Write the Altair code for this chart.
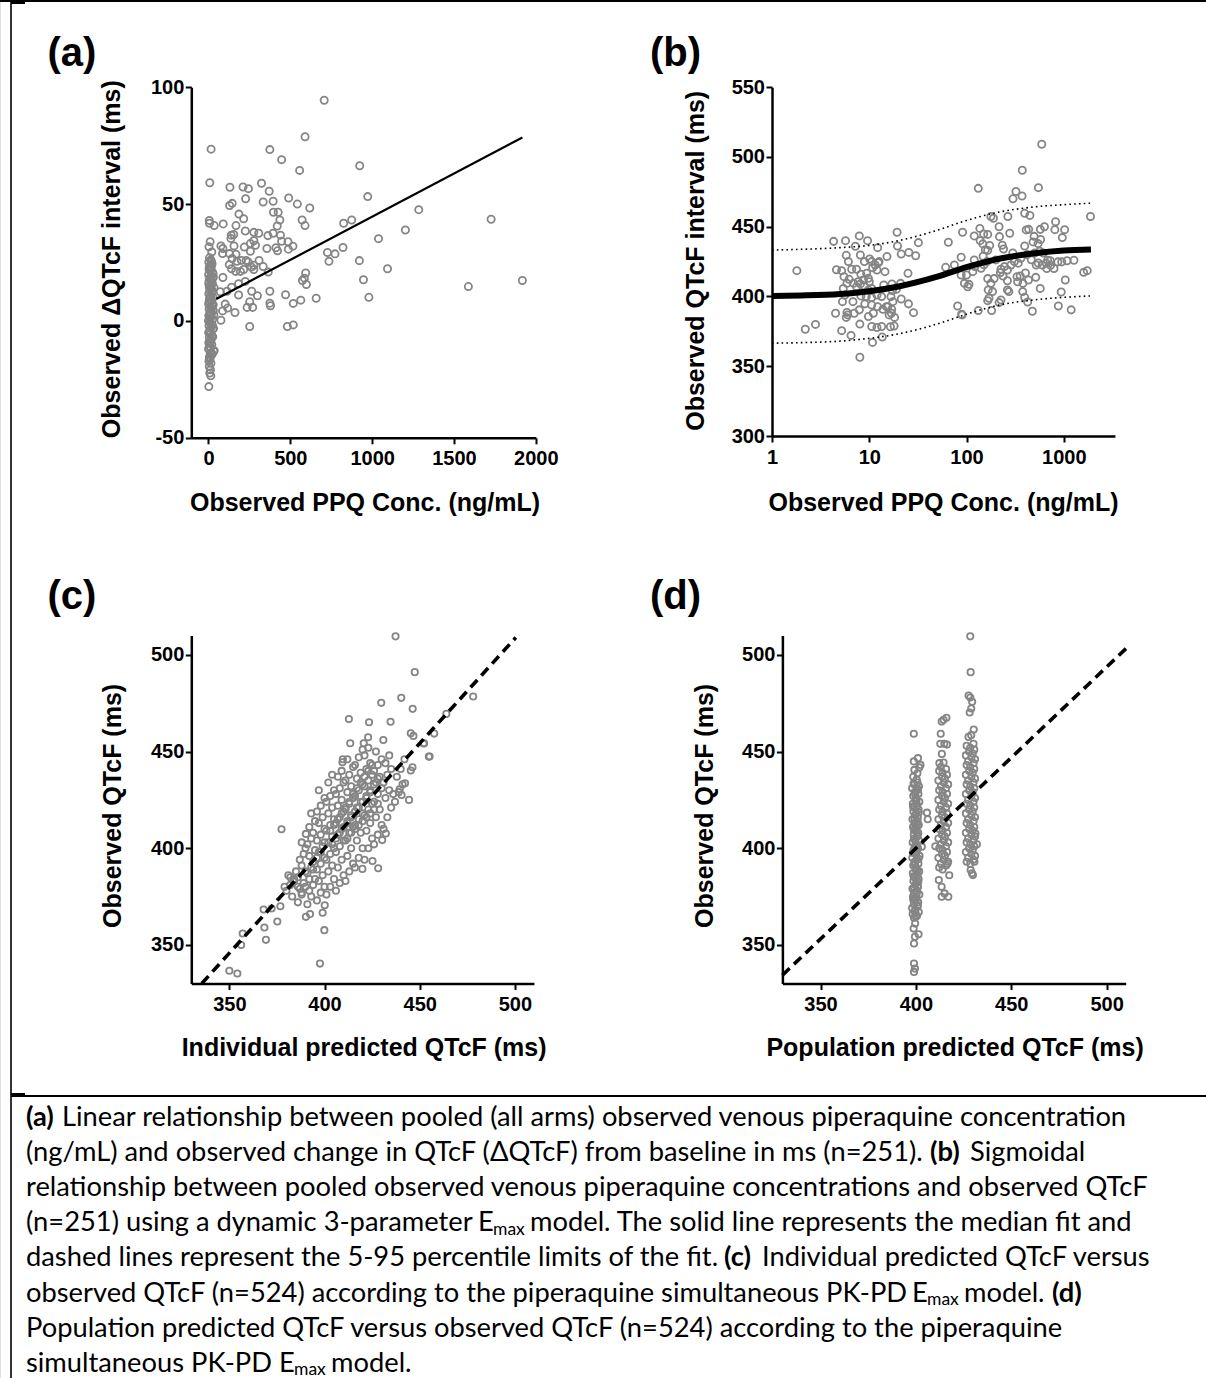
import altair as alt
import pandas as pd

W, H = 1206, 1378
AX_FONT = "Liberation Sans"
CAP_FONT = "Lato, 'Open Sans', sans-serif"
GRAY = "#858585"

# ---------------- Panel (a): conc vs delta QTcF ----------------
a_points = [
    (10, 33.9), (3, 31.7), (20, 29.5), (6, 27.0), (14, 26.1), (2, 25.2), (22, 24.4), (9, 23.6), (17, 22.9),
    (4, 22.0), (12, 21.3), (26, 20.6), (1, 19.8), (15, 19.0), (7, 18.2), (19, 17.5), (3, 16.8), (24, 16.0),
    (11, 15.2), (5, 14.5), (16, 13.9), (8, 13.1), (21, 12.4), (2, 11.6), (13, 10.9), (28, 10.1), (6, 9.4),
    (18, 8.7), (10, 8.0), (1, 7.2), (23, 6.5), (14, 5.8), (4, 5.1), (30, 4.4), (9, 3.6), (17, 2.9), (2, 2.2),
    (12, 1.4), (25, 0.7), (0, 0.0), (7, -0.6), (19, -1.3), (3, -2.1), (15, -2.8), (27, -3.5), (8, -4.2),
    (1, -5.0), (13, -5.7), (22, -6.4), (5, -7.1), (16, -7.9), (10, -8.6), (2, -9.3), (20, -10.1), (7, -10.8),
    (14, -11.5), (4, -12.3), (32, -13.0), (11, -13.8), (18, -14.6), (6, -15.4), (9, -16.3), (3, -17.2),
    (15, -18.1), (5, -19.5), (12, -20.9), (8, -22.3), (14, -23.5), (2, -28.1),
    (18, 25.5), (5, 23.0), (28, 20.1), (11, 17.9), (2, 15.8), (25, 12.8), (16, 10.5), (4, 8.3), (20, 5.5),
    (11, 3.0), (5, 1.0), (24, -1.8), (9, -4.5), (26, -6.8), (12, -9.0), (1, -11.9), (23, -14.1), (8, -16.0),
    (35, -12.7), (30, 18.7), (34, 14.2), (29, 6.9), (33, 2.5), (31, -3.2),
    (707, 94.4), (590, 78.8), (16, 73.5), (375, 73.3), (447, 69), (557, 64.4), (924, 66.4), (8, 59.1),
    (131, 57.2), (211, 57.3), (244, 56.6), (324, 58.9), (371, 55.5), (227, 52.3), (334, 50.9), (395, 51.2),
    (129, 49.4), (145, 50.3), (490, 52.6), (543, 50), (619, 48.3), (973, 53.2), (186, 45.7), (215, 43.7),
    (397, 46.5), (426, 46.5), (436, 43.2), (572, 43.2), (590, 40.8), (420, 40.6), (1285, 47.6), (1727, 43.5),
    (826, 41.8), (875, 43.2), (1203, 38.9), (1039, 35.2), (5, 43), (6, 41.8), (35, 40.8), (90, 41.5),
    (168, 40.8), (225, 38.5), (277, 37.9), (307, 37.5), (363, 36.5), (395, 37.5), (440, 36.7), (139, 36.7),
    (154, 37), (137, 35.3), (277, 34.3), (256, 33.1), (287, 32.4), (447, 34.1), (486, 33.9), (516, 32),
    (488, 30.7), (357, 31), (412, 31.3), (422, 30), (219, 31.6), (156, 32.1), (76, 32.1), (88, 31),
    (86, 28.8), (129, 28.8), (168, 28.5), (256, 29.8), (727, 29.3), (773, 28.7), (822, 31.4), (736, 25.5),
    (922, 25.8), (145, 26.7), (174, 25.5), (201, 25.9), (230, 25.9), (242, 25.2), (277, 23.8), (127, 24.1),
    (141, 22.3), (166, 21.2), (195, 21.2), (215, 22), (262, 23.1), (277, 22), (309, 25.9), (334, 23.3),
    (365, 20.9), (1094, 22.3), (594, 20.5), (574, 17.3), (586, 18.3), (598, 15.6), (947, 17.6), (1588, 14.7),
    (1918, 17.3), (88, 18.6), (225, 16.9), (184, 15.9), (141, 14.4), (72, 12.5), (113, 12.7), (264, 12.7),
    (375, 12.7), (184, 11.1), (299, 10.8), (471, 11.2), (980, 10.1), (658, 9.7), (564, 8.9), (518, 7.5),
    (375, 7.6), (379, 6.5), (252, 8.2), (236, 5.8), (270, 5.8), (102, 7.2), (117, 5.5), (86, 4.3),
    (162, 3.6), (76, 0.3), (252, -2.4), (482, -2.4), (518, -1.7),
]
a_fit_conc = [47, 1918]
a_fit_dqtc = [9.4, 78.5]

# ---------------- Panel (b): conc (log) vs QTcF ----------------
b_points = [
    (1.8, 418.5), (2.2, 376.5), (2.8, 380), (4.3, 439.5), (5.7, 440), (7.9, 443.4), (9.6, 440), (5.8, 429.5),
    (6.1, 425), (8.1, 429.7), (7.2, 436), (10.1, 426.9), (4.6, 419.2), (5.2, 418.5), (6.6, 419.5), (7.4, 419.5),
    (5.5, 414.2), (6.2, 412.3), (5.9, 409.4), (5.4, 405.8), (5.6, 401.1), (6.9, 409.4), (7.7, 410.6), (8.7, 411.8),
    (9.8, 413), (10.6, 425), (11.5, 422.6), (12, 419), (12.6, 425), (15.2, 428.6), (14.5, 417.8), (12.2, 435),
    (19.3, 446), (19.5, 436.2), (21.3, 430.4), (25.5, 431.6), (30, 429.2), (32, 438.6), (25, 416.6), (17.1, 409),
    (21, 409.4), (21.3, 398.2), (28.5, 388.4), (17, 390.8), (15, 392.7), (18.2, 385), (18, 378.8), (16.5, 378.3),
    (13.6, 370.9), (10.8, 367.1), (12, 377.8), (8, 380.2), (6.5, 372.1), (8, 356.4), (5.2, 375.5), (4.5, 388),
    (5.8, 385), (5.9, 388.6), (7, 388), (7.9, 390.4), (9, 394.7), (6.8, 396.3), (8.2, 400.4), (9.3, 399.9),
    (10.6, 399.2), (12, 401.1), (13.4, 399.9), (10.6, 393.9), (12.2, 392.7), (13.8, 390.8), (15.5, 392.7),
    (16.9, 388), (9.8, 385.6), (11, 388), (9.8, 404.7), (8.9, 407.5), (8.1, 409), (10, 410.6), (10.6, 405.8),
    (9.4, 416.6), (10.8, 420.6), (12.4, 424.2), (5.3, 396.3), (6, 386.8), (10.6, 378.5), (13.4, 378.5),
    (16, 386.8), (17.5, 396.3), (25.3, 394.7), (16.7, 399.9), (17.3, 404.2), (19, 405.1), (8.9, 425), (8.2, 416),
    (7.4, 407), (14.1, 408.3),
    (61, 420.9), (75, 422.6), (65, 438.9), (91, 446), (88, 428.1), (81, 393.2), (88, 415.4), (95, 409.4),
    (106, 408.7), (90, 386.8), (116, 417.8), (120, 443.4), (132, 477.5), (137, 448.8), (150, 444.8), (165, 444.5),
    (148, 428.8), (156, 433.5), (165, 433), (173, 436.6), (147, 437.7), (138, 440), (178, 457.3), (189, 456.1),
    (216, 450), (218, 442.9), (233, 436.8), (240, 434), (278, 445.3), (266, 457.3), (322, 475.2), (300, 470),
    (372, 472), (374, 490.5), (593, 509.1), (548, 478), (396, 459.6), (448, 458.1), (632, 450), (573, 448.1),
    (410, 447.7), (435, 448.1), (396, 436.2), (495, 443.1), (577, 440.8), (823, 453.6), (809, 447.9),
    (1020, 447.9), (965, 442.2), (544, 437.9), (483, 439.1), (503, 431.2), (566, 432.4), (615, 431.2),
    (682, 426), (730, 422.4), (668, 420), (792, 420), (868, 424.8), (952, 424.8), (1080, 425.6), (1270, 426),
    (1035, 411.8), (940, 403.2), (878, 393.2), (1190, 390.4), (1880, 457.3), (1600, 417.3), (1740, 418.5),
    (572, 405.8), (475, 389.4), (425, 396), (396, 399.4), (378, 403.5), (330, 414.2), (356, 414.7), (380, 409.4),
    (433, 411.8), (515, 413.7), (263, 411.3), (237, 414.7), (272, 403.5), (263, 404.7), (226, 397.5),
    (216, 395.6), (185, 403.5), (167, 404.7), (170, 398.7), (165, 397), (181, 389.9), (132, 389.9), (89, 387.3),
    (165, 412.8), (178, 409.4), (192, 412.8), (226, 419.5), (245, 421.4), (223, 417.1), (200, 426.2), (310, 425),
    (340, 423.9), (362, 427.4), (286, 422.6), (263, 419), (299, 431.2), (420, 430), (462, 426.3), (520, 422.6),
    (600, 422.6), (660, 423.9), (725, 425.6), (545, 424), (403, 416.8), (335, 410.5), (162, 425), (151, 422.7),
    (120, 426.2), (122, 421.4), (141, 420.2), (100, 415.4), (103, 407),
]
b_curve_conc = [1, 2, 5, 10, 20, 50, 100, 200, 500, 1000, 1900]
b_median = [400.3, 400.7, 401.8, 403.8, 407.2, 414.2, 421.0, 426.6, 431.0, 432.9, 433.6]
b_upper = [433.3, 433.8, 435.0, 436.6, 440.0, 447.5, 454.5, 460.0, 464.2, 465.8, 466.9]
b_lower = [366.5, 366.9, 368.0, 370.0, 373.2, 380.3, 387.3, 393.3, 397.6, 399.4, 400.4]

# ---------------- Panel (c): individual predicted vs observed ----------------
c_points = [
    (437.3, 509.6), (447.4, 491.1), (440.3, 477.8), (429.8, 475.2), (446.3, 472.1), (412.8, 466.8),
    (423.4, 465.2), (434.7, 465.4), (478.1, 478.5), (464, 469.5), (457.6, 459.3), (452.3, 454.3),
    (454.8, 447.4), (445.3, 459.5), (446.7, 458.1), (413.5, 454.3), (420.6, 454.3), (422.9, 457.4),
    (430.9, 456), (409.6, 446), (409.4, 444.5), (377.4, 409.8), (390.2, 407.4), (357, 355.9), (356.2, 349.9),
    (350, 336.6), (354.2, 335.2), (368, 368.3), (372.2, 368.8), (368.4, 359), (369.2, 352.6), (375.2, 362.1),
    (376.8, 370), (397.6, 340.3), (399.9, 357.6), (399, 366.6), (400.1, 370.5), (390.2, 364.5), (392.4, 365.9),
    (425.2, 393.4), (428.2, 389.6), (419.9, 389.3), (430.3, 404.2), (432.2, 407.6), (439.5, 430.5),
    (436.1, 428), (440.5, 427.5), (442.3, 433.6), (444.4, 425), (445.3, 440.2), (446.2, 441.9), (455.2, 447.4),
    (452, 454.2),
    (380, 378), (382, 381), (384, 384), (381, 386), (383, 375), (385, 388), (379, 380), (384, 383), (382, 385),
    (386, 372), (388, 376), (387, 379), (389, 382), (386, 385), (390, 388), (388, 391), (387, 394), (389, 397),
    (390, 400), (388, 403), (386, 380),
    (391, 371), (393, 375), (392, 378), (394, 381), (395, 384), (391, 387), (393, 390), (394, 393), (392, 396),
    (395, 399), (391, 402), (393, 405), (394, 408), (392, 411), (395, 414), (393, 418),
    (396, 373), (398, 377), (400, 380), (397, 383), (399, 386), (396, 389), (398, 392), (400, 395), (397, 398),
    (399, 401), (396, 404), (398, 407), (400, 410), (397, 413), (399, 416), (396, 419), (398, 422), (400, 426),
    (397, 430),
    (401, 376), (403, 380), (405, 384), (402, 388), (404, 391), (401, 394), (403, 397), (405, 400), (402, 403),
    (404, 406), (401, 409), (403, 412), (405, 415), (402, 418), (404, 421), (401, 424), (403, 427), (405, 430),
    (402, 434), (404, 438),
    (406, 378), (408, 382), (410, 386), (407, 390), (409, 394), (406, 398), (408, 401), (410, 404), (407, 407),
    (409, 410), (406, 413), (408, 416), (410, 419), (407, 422), (409, 425), (406, 428), (408, 431), (410, 434),
    (407, 437), (409, 440),
    (411, 383), (413, 388), (415, 392), (412, 396), (414, 400), (411, 404), (413, 408), (415, 411), (412, 414),
    (414, 417), (411, 420), (413, 423), (415, 426), (412, 429), (414, 432), (411, 435), (413, 438), (415, 442),
    (412, 446),
    (416, 390), (418, 395), (420, 400), (417, 404), (419, 408), (416, 412), (418, 415), (420, 418), (417, 421),
    (419, 424), (416, 427), (418, 430), (420, 433), (417, 436), (419, 439), (416, 443), (418, 447), (420, 451),
    (421, 394), (423, 400), (425, 405), (422, 409), (424, 413), (421, 417), (423, 420), (425, 423), (422, 426),
    (424, 429), (421, 432), (423, 435), (425, 438), (422, 441), (424, 444), (421, 448), (423, 452),
    (426, 402), (428, 407), (430, 412), (427, 416), (429, 420), (426, 424), (428, 428), (430, 431), (427, 434),
    (429, 437), (426, 440), (428, 443), (430, 446), (427, 450),
    (431, 410), (433, 416), (435, 421), (432, 426), (434, 430), (431, 434), (433, 438), (435, 441), (432, 444),
    (434, 448),
    (437, 424), (439, 429), (441, 433), (438, 437), (440, 441), (442, 446),
    (404, 402), (406, 405), (408, 408), (410, 411), (412, 413), (414, 416), (416, 419), (418, 421), (420, 424),
    (422, 427), (424, 430), (426, 433), (428, 436), (403, 409), (405, 412), (407, 415), (409, 418), (411, 421),
    (413, 424), (415, 428), (417, 431), (419, 434), (421, 437), (423, 440), (425, 443), (412, 405), (414, 408),
    (416, 410), (418, 412), (420, 414), (422, 416), (424, 418), (426, 420), (428, 423), (398, 398), (400, 403),
    (396, 395), (394, 389), (392, 384), (390, 380), (388, 377),
]
c_line_pred = [335.5, 500.5]
c_line_obs = [330, 509]

# ---------------- Panel (d): population predicted vs observed ----------------
d_points = [
    (399.0, 364), (400.6, 365), (398.3, 366), (401.5, 367), (399.8, 368), (398.0, 369), (400.9, 370), (398.9, 371),
    (401.2, 372), (399.4, 373), (400.2, 374), (398.5, 375), (401.8, 376), (399.1, 377), (400.7, 378), (398.2, 379),
    (401.0, 380), (399.6, 381), (400.3, 382), (398.7, 383), (401.4, 384), (399.2, 385), (400.8, 386), (398.4, 387),
    (401.7, 388), (399.9, 389), (400.1, 390), (398.6, 391), (401.3, 392), (399.3, 393), (400.5, 394), (398.1, 395),
    (401.9, 396), (399.7, 397), (400.4, 398), (398.8, 399), (401.1, 400), (399.5, 401), (400.0, 402), (398.3, 403),
    (401.6, 404), (399.0, 405), (400.6, 406), (398.9, 407), (401.2, 408), (399.8, 409), (400.3, 410), (398.5, 411),
    (401.5, 412), (399.3, 413), (400.9, 414), (398.2, 415), (401.0, 416), (399.6, 417), (400.2, 418), (398.7, 419),
    (401.4, 420), (399.1, 421), (400.7, 422), (398.4, 423), (401.8, 424), (399.9, 425), (400.1, 426), (398.6, 427),
    (401.3, 428), (399.4, 429), (400.5, 430), (398.0, 431), (401.6, 432), (399.2, 433), (400.8, 434),
    (400.0, 364.5), (399.3, 367.5), (401.0, 370.5), (398.6, 373.5), (400.4, 376.5), (399.0, 379.5), (401.2, 382.5),
    (398.8, 385.5), (400.6, 388.5), (399.5, 391.5), (401.4, 394.5), (398.4, 397.5), (400.2, 400.5), (399.8, 403.5),
    (401.0, 406.5), (398.9, 409.5), (400.7, 412.5), (399.2, 415.5), (401.5, 418.5), (398.5, 421.5), (400.3, 424.5),
    (399.7, 427.5), (401.1, 430.5), (398.8, 433.5),
    (399, 336.0), (399.5, 337.7), (399, 340.3), (399, 350.7), (399.5, 354.2), (401.4, 355.5), (398.8, 358.4),
    (399.6, 361), (400.4, 435.5), (398.6, 437), (400.8, 438.8), (399.2, 440.5), (401.8, 441.8), (402.4, 443.1),
    (398.9, 444.9), (401.1, 446.6), (398.9, 459.2), (405.8, 418.4), (406.2, 415), (403.1, 400.8), (401.0, 380),
    (414.0, 389), (412.2, 390), (415.8, 391), (413.1, 392), (416.9, 393), (414.6, 394), (411.8, 395), (415.2, 396),
    (413.7, 397), (416.3, 398), (414.0, 399), (412.2, 400), (415.8, 401), (413.1, 402), (416.9, 403), (414.6, 404),
    (411.8, 405), (415.2, 406), (413.7, 407), (416.3, 408), (414.0, 409), (412.2, 410), (415.8, 411), (413.1, 412),
    (416.9, 413), (414.6, 414), (411.8, 415), (415.2, 416), (413.7, 417), (416.3, 418), (414.0, 419), (412.2, 420),
    (415.8, 421), (413.1, 422), (416.9, 423), (414.6, 424), (411.8, 425), (415.2, 426), (413.7, 427), (416.3, 428),
    (414.0, 429), (412.2, 430), (415.8, 431), (413.1, 432), (416.9, 433), (414.6, 434), (411.8, 435), (415.2, 436),
    (413.7, 437), (416.3, 438), (414.0, 439), (412.2, 440), (415.8, 441), (413.1, 442),
    (414.5, 466.4), (416, 467.5), (413.5, 465.5), (413, 459.2), (412.8, 454), (414.9, 454), (416.3, 453.6),
    (413.6, 448.8), (412.3, 444), (414.5, 444.3), (412, 383.5), (413.5, 380), (413.5, 374.9), (417, 374.9),
    (415, 376.6), (410.2, 401), (417.5, 386), (416.5, 392),
    (428.5, 392), (426.6, 393), (430.2, 394), (427.4, 395), (431.0, 396), (429.1, 397), (426.2, 398), (429.8, 399),
    (427.9, 400), (430.6, 401), (428.5, 402), (426.6, 403), (430.2, 404), (427.4, 405), (431.0, 406), (429.1, 407),
    (426.2, 408), (429.8, 409), (427.9, 410), (430.6, 411), (428.5, 412), (426.6, 413), (430.2, 414), (427.4, 415),
    (431.0, 416), (429.1, 417), (426.2, 418), (429.8, 419), (427.9, 420), (430.6, 421), (428.5, 422), (426.6, 423),
    (430.2, 424), (427.4, 425), (431.0, 426), (429.1, 427), (426.2, 428), (429.8, 429), (427.9, 430), (430.6, 431),
    (428.5, 432), (426.6, 433), (430.2, 434), (427.4, 435), (431.0, 436), (429.1, 437), (426.2, 438), (429.8, 439),
    (427.9, 440), (430.6, 441), (428.5, 442), (426.6, 443), (430.2, 444), (427.4, 445), (431.0, 446), (429.1, 447),
    (426.2, 448), (429.8, 449), (427.9, 450), (430.6, 451), (428.5, 452), (426.6, 453), (430.2, 454),
    (428.5, 509.6), (428.7, 491.1), (427.6, 479), (428.5, 478), (429.5, 475.8), (429, 472.3), (428.2, 470.2),
    (430.3, 461.4), (429, 458.5), (427.6, 457.6), (428.7, 388.7), (429.4, 387), (429.9, 386.1), (430.7, 393),
    (431.2, 407.6), (432, 402),
]
d_line_pred = [330, 510.5]
d_line_obs = [334.3, 503.6]

# ---------------- Text ----------------
panel_labels = ["(a)", "(b)", "(c)", "(d)"]
caption_segments = [
    "(a)", "Linear relationship between pooled (all arms) observed venous piperaquine concentration",
    "(ng/mL) and observed change in QTcF (\u0394QTcF) from baseline in ms (n=251).", "(b)", "Sigmoidal",
    "relationship between pooled observed venous piperaquine concentrations and observed QTcF",
    "(n=251) using a dynamic 3-parameter", "E", "max", "model. The solid line represents the median fit and",
    "dashed lines represent the 5-95 percentile limits of the fit.", "(c)", "Individual predicted QTcF versus",
    "observed QTcF (n=524) according to the piperaquine simultaneous PK-PD", "E", "max", "model.", "(d)",
    "Population predicted QTcF versus observed QTcF (n=524) according to the piperaquine",
    "simultaneous PK-PD", "E", "max", "model.",
]
caption_style = ["b", "n", "n", "b", "n", "n", "n", "n", "s", "n", "n", "b", "n",
                 "n", "n", "s", "n", "b", "n", "n", "n", "s", "n"]
caption_line = [0, 0, 1, 1, 1, 2, 3, 3, 3, 3, 4, 4, 4, 5, 5, 5, 5, 5, 6, 7, 7, 7, 7]

# ---------------- Layout (pixels) ----------------
caption_x = [26, 62, 26, 930, 970, 26, 26, 478, 493, 530, 26, 724, 762,
             26, 912, 927, 964, 1052, 26, 26, 279, 294, 331]
CAP_BASE, CAP_STEP, CAP_SIZE = 1125.5, 35.2, 27.3
SUB_SIZE, SUB_SHIFT = 17.5, 3.5
label_pos = [(47.5, 65.5), (650, 65.5), (47.5, 609), (650, 609)]

one = pd.DataFrame({"k": [0]})


def axis(orient, offset, values, title, tx, ty):
    return alt.Axis(
        orient=orient, offset=offset, values=values, title=title,
        titleX=tx, titleY=ty, titleBaseline="alphabetic", titleAlign="center",
        titleAngle=270 if orient == "left" else 0,
        titleFont=AX_FONT, titleFontSize=25, titleFontWeight="bold", titleColor="black",
        labelFont=AX_FONT, labelFontSize=20, labelFontWeight="bold", labelColor="black",
        labelExpr="'' + datum.value", labelFlush=False, labelOverlap=False,
        labelPadding=5 if orient == "bottom" else 1.5,
        grid=False, domainColor="black", domainWidth=2.5,
        tickColor="black", tickWidth=2, tickSize=6,
    )


def scatter(points, xs, ys, xax, yax, size):
    df = pd.DataFrame({"x": [p[0] for p in points], "y": [p[1] for p in points]})
    return alt.Chart(df).mark_point(
        shape="circle", filled=False, size=size, strokeWidth=1.8, color=GRAY, opacity=1
    ).encode(x=alt.X("x:Q", scale=xs, axis=xax), y=alt.Y("y:Q", scale=ys, axis=yax))


def line(xv, yv, xs, ys, **kw):
    df = pd.DataFrame({"x": xv, "y": yv})
    return alt.Chart(df).mark_line(color="black", **kw).encode(
        x=alt.X("x:Q", scale=xs, axis=None), y=alt.Y("y:Q", scale=ys, axis=None)
    )


XA = alt.Scale(domain=[-105, 2000], range=[191.3, 535.8], nice=False, zero=False)
YA = alt.Scale(domain=[-50, 100], range=[437.8, 87.2], nice=False, zero=False)
XB = alt.Scale(type="log", domain=[1, 3350], range=[772, 1114.9], nice=False)
YB = alt.Scale(domain=[300, 550], range=[436, 87.2], nice=False, zero=False)
XC = alt.Scale(domain=[330, 510], range=[191.3, 533.9], nice=False, zero=False)
YC = alt.Scale(domain=[330, 510], range=[983.5, 635.6], nice=False, zero=False)
XD = alt.Scale(domain=[330, 510], range=[782.4, 1125.7], nice=False, zero=False)
YD = alt.Scale(domain=[330, 510], range=[983.5, 635.6], nice=False, zero=False)

layers = []
# panel a
layers.append(scatter(
    a_points, XA, YA,
    axis("bottom", -(H - 437.8), [0, 500, 1000, 1500, 2000], "Observed PPQ Conc. (ng/mL)", 364.5, 72.5),
    axis("left", -191.3, [-50, 0, 50, 100], "Observed \u0394QTcF interval (ms)", -72, 258.7), 52))
layers.append(line(a_fit_conc, a_fit_dqtc, XA, YA, strokeWidth=2.2))
# panel b
layers.append(scatter(
    b_points, XB, YB,
    axis("bottom", -(H - 436), [1, 10, 100, 1000], "Observed PPQ Conc. (ng/mL)", 943, 74.3),
    axis("left", -772, [300, 350, 400, 450, 500, 550], "Observed QTcF interval (ms)", -69, 260.3), 52))
layers.append(line(b_curve_conc, b_median, XB, YB, strokeWidth=6, interpolate="monotone"))
layers.append(line(b_curve_conc, b_upper, XB, YB, strokeWidth=1.6, strokeDash=[1.6, 3.2], interpolate="monotone"))
layers.append(line(b_curve_conc, b_lower, XB, YB, strokeWidth=1.6, strokeDash=[1.6, 3.2], interpolate="monotone"))
# panel c
layers.append(scatter(
    c_points, XC, YC,
    axis("bottom", -(H - 983.5), [350, 400, 450, 500], "Individual predicted QTcF (ms)", 363.6, 72),
    axis("left", -191.3, [350, 400, 450, 500], "Observed QTcF (ms)", -71, 805.4), 40))
layers.append(line(c_line_pred, c_line_obs, XC, YC, strokeWidth=3.6, strokeDash=[10, 6]))
# panel d
layers.append(scatter(
    d_points, XD, YD,
    axis("bottom", -(H - 983.5), [350, 400, 450, 500], "Population predicted QTcF (ms)", 954.6, 72),
    axis("left", -782.4, [350, 400, 450, 500], "Observed QTcF (ms)", -69.5, 805.4), 40))
layers.append(line(d_line_pred, d_line_obs, XD, YD, strokeWidth=3.6, strokeDash=[10, 6]))

# panel labels
for lab, (lx, ly) in zip(panel_labels, label_pos):
    layers.append(alt.Chart(one).mark_text(
        align="left", baseline="alphabetic", font=AX_FONT, fontSize=40, fontWeight="bold", color="black"
    ).encode(x=alt.value(lx), y=alt.value(ly), text=alt.value(lab)))

# caption
for seg, sty, cx, ln in zip(caption_segments, caption_style, caption_x, caption_line):
    cy = CAP_BASE + CAP_STEP * ln + (SUB_SHIFT if sty == "s" else 0)
    layers.append(alt.Chart(one).mark_text(
        align="left", baseline="alphabetic", font=CAP_FONT,
        fontSize=SUB_SIZE if sty == "s" else CAP_SIZE,
        fontWeight="bold" if sty == "b" else "normal", color="black"
    ).encode(x=alt.value(cx), y=alt.value(cy), text=alt.value(seg)))

# table borders
borders = [
    dict(x=0, x2=W, y=1, y2=1, w=2),
    dict(x=11, x2=11, y=0, y2=H, w=1.6),
    dict(x=11, x2=W, y=1096, y2=1096, w=2),
    dict(x=11, x2=25, y=2.5, y2=2.5, w=3),
    dict(x=11, x2=25, y=1094, y2=1094, w=2),
]
for b in borders:
    layers.append(alt.Chart(one).mark_rule(color="black", strokeWidth=b["w"]).encode(
        x=alt.value(b["x"]), x2=alt.value(b["x2"]), y=alt.value(b["y"]), y2=alt.value(b["y2"])))

chart = alt.layer(*layers).resolve_scale(
    x="independent", y="independent"
).resolve_axis(
    x="independent", y="independent"
).properties(
    width=W, height=H, autosize=alt.AutoSizeParams(type="none"), padding=0
).configure_view(stroke=None).configure(background="white")

chart.save("out.html", embed_options={"renderer": "svg", "actions": False})
